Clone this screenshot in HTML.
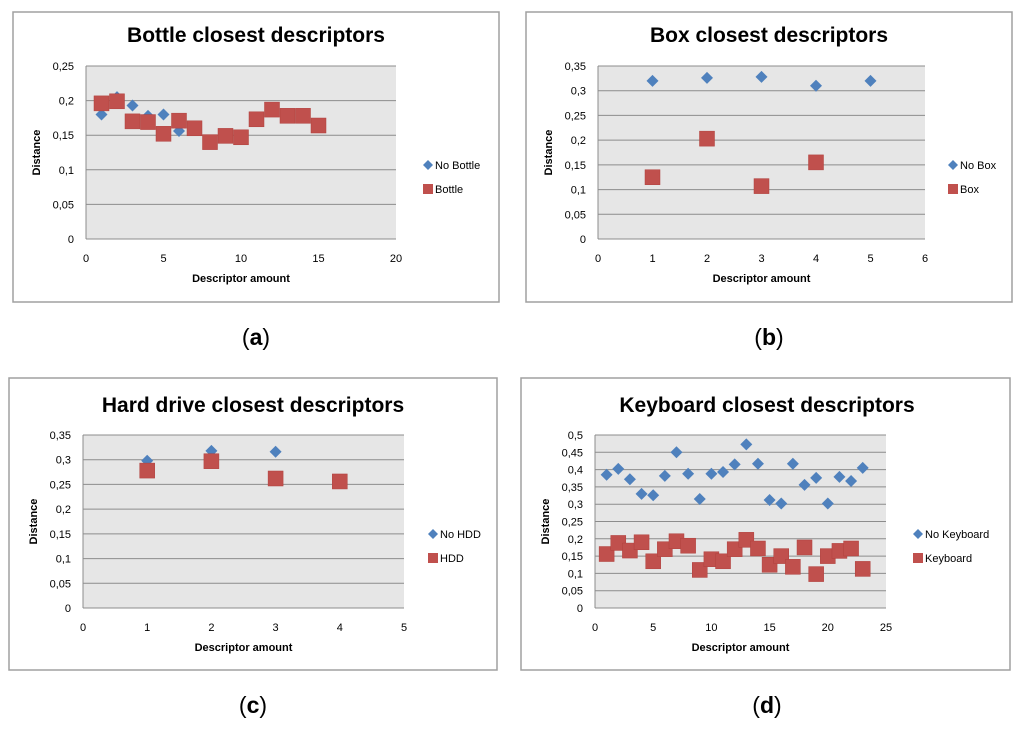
<!DOCTYPE html>
<html><head><meta charset="utf-8"><style>
body{margin:0;background:#fff;width:1024px;height:729px;overflow:hidden}
svg{display:block}
text{font-family:"Liberation Sans",sans-serif}
</style></head><body>
<svg id="s" width="1024" height="729"></svg>
<script>
// Chart a
const aNoX=[1,2,3,4,5,6];
const aNo=[0.18,0.205,0.193,0.178,0.18,0.156];
const aYesX=[1,2,3,4,5,6,7,8,9,10,11,12,13,14,15];
const aYes=[0.196,0.199,0.17,0.169,0.152,0.171,0.16,0.14,0.149,0.147,0.173,0.187,0.178,0.178,0.164];
const aXTicks=[0,5,10,15,20];
const aYTicks=["0","0,05","0,1","0,15","0,2","0,25"];
// Chart b
const bNoX=[1,2,3,4,5];
const bNo=[0.32,0.326,0.328,0.31,0.32];
const bYesX=[1,2,3,4];
const bYes=[0.125,0.203,0.107,0.155];
const bXTicks=[0,1,2,3,4,5,6];
const bYTicks=["0","0,05","0,1","0,15","0,2","0,25","0,3","0,35"];
// Chart c
const cNoX=[1,2,3];
const cNo=[0.298,0.318,0.316];
const cYesX=[1,2,3,4];
const cYes=[0.278,0.297,0.262,0.256];
const cXTicks=[0,1,2,3,4,5];
const cYTicks=["0","0,05","0,1","0,15","0,2","0,25","0,3","0,35"];
// Chart d
const dNoX=[1,2,3,4,5,6,7,8,9,10,11,12,13,14,15,16,17,18,19,20,21,22,23];
const dNo=[0.385,0.402,0.372,0.33,0.326,0.382,0.45,0.388,0.315,0.388,0.393,0.415,0.473,0.417,0.312,0.302,0.417,0.356,0.376,0.302,0.379,0.367,0.405];
const dYesX=dNoX;
const dYes=[0.156,0.188,0.166,0.19,0.135,0.17,0.193,0.18,0.11,0.141,0.135,0.17,0.197,0.172,0.125,0.15,0.119,0.175,0.098,0.15,0.165,0.172,0.113];
const dXTicks=[0,5,10,15,20,25];
const dYTicks=["0","0,05","0,1","0,15","0,2","0,25","0,3","0,35","0,4","0,45","0,5"];

const NS="http://www.w3.org/2000/svg";
const svg=document.getElementById('s');
function mk(tag,at,parent,txt){const e=document.createElementNS(NS,tag);for(const k in at)e.setAttribute(k,at[k]);if(txt!==undefined)e.textContent=txt;(parent||svg).appendChild(e);return e;}

function chart(o){
  const g=mk('g',{});
  
  
  const fr=mk('rect',{x:o.fx,y:o.fy,width:o.fw,height:o.fh,fill:'#fff',stroke:'#a0a0a0','stroke-width':1.5},g);
  
  
  const t=mk('text',{x:o.tx,y:o.ty,'text-anchor':'middle','font-size':21,'font-weight':'bold',fill:'#000'},g,o.title);
  
  
  const pa=mk('rect',{x:o.x0,y:o.yT,width:o.x1-o.x0,height:o.yB-o.yT,fill:'#e6e6e6'},g);
  
  
  const xs=v=>o.x0+(v-o.xmin)/(o.xmax-o.xmin)*(o.x1-o.x0);
  const ymax=parseFloat(o.yt[o.yt.length-1].replace(',','.'));
  const ys=v=>o.yB-v/ymax*(o.yB-o.yT);
  o.yt.forEach(l=>{const v=parseFloat(l.replace(',','.'));const y=ys(v);
    const gl=mk('line',{x1:o.x0,x2:o.x1,y1:y,y2:y,stroke:'#8c8c8c','stroke-width':1},g);
    
    
    const tl=mk('text',{x:o.x0-12,y:y+4,'text-anchor':'end','font-size':11,fill:'#000'},g,l);
    
    
  });
  const ax=mk('line',{x1:o.x0,x2:o.x0,y1:o.yT,y2:o.yB,stroke:'#8c8c8c'},g);
  
  
  o.xt.forEach(v=>{const tl=mk('text',{x:xs(v),y:o.yB+23,'text-anchor':'middle','font-size':11,fill:'#000'},g,String(v));
    
    });
  const xl=mk('text',{x:(o.x0+o.x1)/2,y:o.yB+43,'text-anchor':'middle','font-size':11,'font-weight':'bold'},g,'Descriptor amount');
  
  
  const cy=(o.yT+o.yB)/2, lx=o.x0-46;
  const yl=mk('text',{x:lx,y:cy,'text-anchor':'middle','font-size':11,'font-weight':'bold',transform:`rotate(-90 ${lx} ${cy})`},g,'Distance');
  
  
  o.noX.forEach((x,i)=>{const px=xs(x),py=ys(o.no[i]);
    const d=mk('path',{d:`M${px} ${py-6}L${px+6} ${py}L${px} ${py+6}L${px-6} ${py}Z`,fill:'#4f81bd'},g);
    
    });
  o.yesX.forEach((x,i)=>{const px=xs(x),py=ys(o.yes[i]);
    const r=mk('rect',{x:px-7.5,y:py-7.5,width:15,height:15,fill:'#c0504d',stroke:'#b0403d','stroke-width':0.5},g);
    
    });
  const lg=mk('g',{},g);
  
  
  const L=o.lx,Y1=o.ly;
  mk('path',{d:`M${L} ${Y1-5}L${L+5} ${Y1}L${L} ${Y1+5}L${L-5} ${Y1}Z`,fill:'#4f81bd'},lg);
  const e1=mk('text',{x:L+7,y:Y1+4,'font-size':11},lg,o.l1);
  
  
  mk('rect',{x:L-5,y:Y1+19,width:10,height:10,fill:'#c0504d'},lg);
  const e2=mk('text',{x:L+7,y:Y1+28,'font-size':11},lg,o.l2);
  
  
  const cp=mk('text',{x:o.capx,y:o.capy,'text-anchor':'middle','font-size':23,'font-family':'Liberation Serif, serif'},svg);
  mk('tspan',{},cp,'(');mk('tspan',{'font-weight':'bold'},cp,o.cap);mk('tspan',{},cp,')');
  
  
}
chart({name:'chart-a',fx:13,fy:12,fw:486,fh:290,tx:256,ty:42,title:'Bottle closest descriptors',x0:86,x1:396,yT:66,yB:239,xmin:0,xmax:20,xt:aXTicks,yt:aYTicks,noX:aNoX,no:aNo,yesX:aYesX,yes:aYes,lx:428,ly:165,l1:'No Bottle',l2:'Bottle',capx:256,capy:345,cap:'a'});
chart({name:'chart-b',fx:526,fy:12,fw:486,fh:290,tx:769,ty:42,title:'Box closest descriptors',x0:598,x1:925,yT:66,yB:239,xmin:0,xmax:6,xt:bXTicks,yt:bYTicks,noX:bNoX,no:bNo,yesX:bYesX,yes:bYes,lx:953,ly:165,l1:'No Box',l2:'Box',capx:769,capy:345,cap:'b'});
chart({name:'chart-c',fx:9,fy:378,fw:488,fh:292,tx:253,ty:412,title:'Hard drive closest descriptors',x0:83,x1:404,yT:435,yB:608,xmin:0,xmax:5,xt:cXTicks,yt:cYTicks,noX:cNoX,no:cNo,yesX:cYesX,yes:cYes,lx:433,ly:534,l1:'No HDD',l2:'HDD',capx:253,capy:713,cap:'c'});
chart({name:'chart-d',fx:521,fy:378,fw:489,fh:292,tx:767,ty:412,title:'Keyboard closest descriptors',x0:595,x1:886,yT:435,yB:608,xmin:0,xmax:25,xt:dXTicks,yt:dYTicks,noX:dNoX,no:dNo,yesX:dYesX,yes:dYes,lx:918,ly:534,l1:'No Keyboard',l2:'Keyboard',capx:767,capy:713,cap:'d'});
</script>
</body></html>
